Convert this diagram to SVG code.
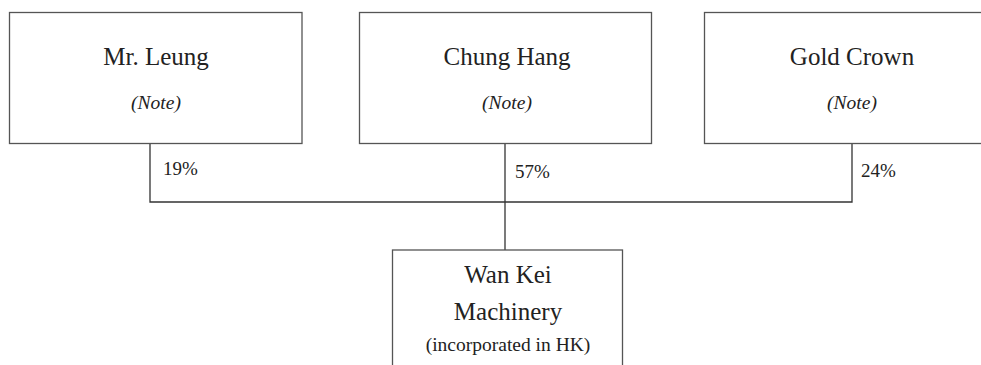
<svg xmlns="http://www.w3.org/2000/svg" width="981" height="365" viewBox="0 0 981 365">
<style>
.box{fill:#fff;stroke:#555;stroke-width:1.3}
.t{font-family:"Liberation Serif","Times New Roman",serif;fill:#222;text-anchor:middle}
.title{font-size:25px}
.note{font-size:19.5px;font-style:italic}
.pct{font-family:"Liberation Serif","Times New Roman",serif;fill:#222;font-size:19px}
.sub{font-size:19.5px}
.conn{fill:none;stroke:#333;stroke-width:1.3}
</style>
<rect width="981" height="365" fill="#fff"/>
<g id="connectors">
<path class="conn" d="M150,143.5 V202 H852 V143.5"/>
<path class="conn" d="M505,143.5 V250"/>
<text class="pct" x="163" y="175">19%</text>
<text class="pct" x="515" y="178">57%</text>
<text class="pct" x="861" y="177">24%</text>
</g>
<g id="mr-leung">
<rect class="box" x="9.5" y="12.5" width="292.5" height="131"/>
<text class="t title" x="156" y="65">Mr. Leung</text>
<text class="t note" x="156" y="109">(Note)</text>
</g>
<g id="chung-hang">
<rect class="box" x="359.5" y="12.5" width="292" height="131"/>
<text class="t title" x="507" y="65">Chung Hang</text>
<text class="t note" x="507" y="109">(Note)</text>
</g>
<g id="gold-crown">
<rect class="box" x="704.5" y="12.5" width="292" height="131"/>
<text class="t title" x="852" y="65">Gold Crown</text>
<text class="t note" x="852" y="109">(Note)</text>
</g>
<g id="wan-kei">
<rect class="box" x="392.5" y="250" width="230" height="130"/>
<text class="t title" x="508" y="283">Wan Kei</text>
<text class="t title" x="508" y="320">Machinery</text>
<text class="t sub" x="508" y="351">(incorporated in HK)</text>
</g>
</svg>
